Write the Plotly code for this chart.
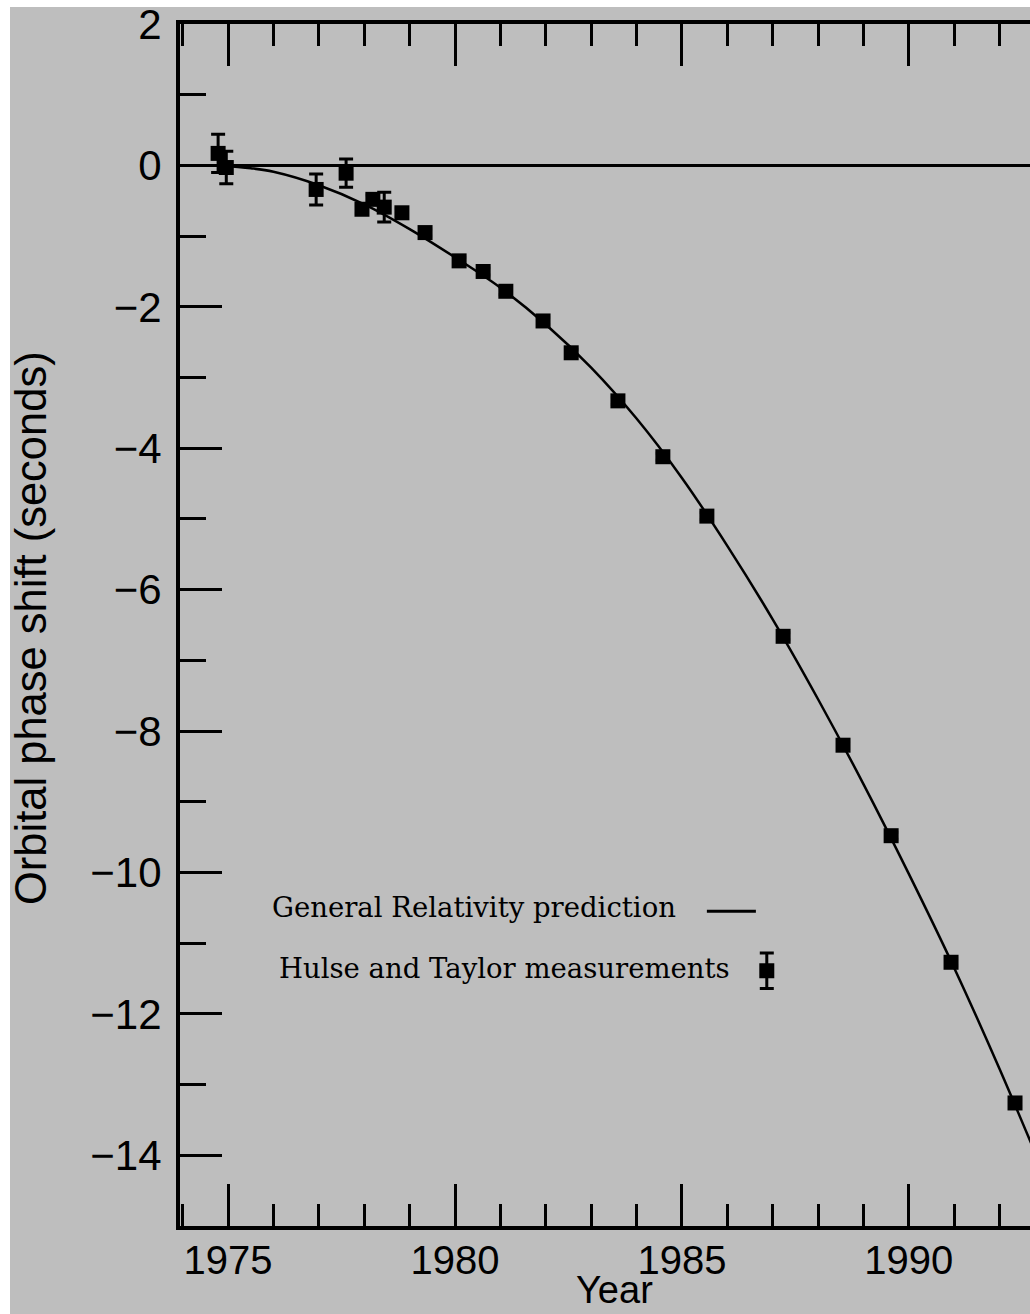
import plotly.graph_objects as go

# Hulse-Taylor binary pulsar: cumulative shift of periastron time
years = [1974.78, 1974.96, 1976.94, 1977.60, 1977.95, 1978.19, 1978.44, 1978.83,
         1979.34, 1980.09, 1980.62, 1981.12, 1981.94, 1982.56, 1983.59, 1984.58,
         1985.55, 1987.23, 1988.55, 1989.61, 1990.93, 1992.34]
shift = [0.17, -0.03, -0.34, -0.11, -0.62, -0.48, -0.59, -0.67,
         -0.95, -1.35, -1.50, -1.78, -2.20, -2.65, -3.33, -4.12,
         -4.96, -6.66, -8.20, -9.48, -11.27, -13.26]
shift_err = [0.27, 0.23, 0.22, 0.20, 0.06, 0.06, 0.21, 0.06,
             0.05, 0.05, 0.05, 0.05, 0.05, 0.05, 0.05, 0.05,
             0.05, 0.05, 0.05, 0.05, 0.05, 0.05]

# General Relativity prediction curve
gr_years = [1974.8, 1975.5, 1976, 1977, 1978, 1979, 1980, 1981, 1982, 1983,
            1984, 1985, 1986, 1987, 1988, 1989, 1990, 1991, 1992, 1993]
gr_shift = [0.0, -0.04, -0.09, -0.28, -0.55, -0.90, -1.30, -1.73, -2.25, -2.86,
            -3.58, -4.42, -5.38, -6.42, -7.55, -8.75, -10.02, -11.35, -12.78, -14.3]

x_range = [1973.94, 1992.67]
y_range = [-15, 2]

label_gr = "General Relativity prediction"
label_ht = "Hulse and Taylor measurements"
x_title = "Year"
y_title = "Orbital phase shift (seconds)"

# key samples drawn next to the in-plot legend text (data units)
key_line_x = [1985.55, 1986.63]
key_line_y = -10.55
key_mark_x = 1986.87
key_mark_y = -11.39
key_mark_err = 0.25

GRAY = "#bebebe"
INK = "black"
FIG_W, FIG_H = 1030, 1314
L, R, T, B = 180, 1030, 24, 1226
PW, PH = R - L, B - T


def px_x(px):
    return (px - L) / PW


def px_y(py):
    return (B - py) / PH


fig = go.Figure()

fig.add_trace(go.Scatter(
    x=gr_years, y=gr_shift, mode="lines",
    line=dict(color=INK, width=2.5, shape="spline"),
    hoverinfo="skip",
))

fig.add_trace(go.Scatter(
    x=years, y=shift, mode="markers",
    marker=dict(symbol="square", size=15, color=INK),
    error_y=dict(type="data", array=shift_err, color=INK, thickness=3, width=7),
))

# legend keys
fig.add_trace(go.Scatter(
    x=key_line_x, y=[key_line_y, key_line_y], mode="lines",
    line=dict(color=INK, width=3), hoverinfo="skip",
))
fig.add_trace(go.Scatter(
    x=[key_mark_x], y=[key_mark_y], mode="markers",
    marker=dict(symbol="square", size=15, color=INK),
    error_y=dict(type="data", array=[key_mark_err], color=INK, thickness=3, width=7),
    hoverinfo="skip",
))

sans = "Liberation Sans, Arial, sans-serif"
ytick_font = dict(family=sans, size=42, color=INK)
xtick_font = dict(family=sans, size=40, color=INK)
ytitle_font = dict(family=sans, size=43.5, color=INK)
xtitle_font = dict(family=sans, size=38, color=INK)
legend_font = dict(family="DejaVu Serif, serif", size=27.5, color=INK)

fig.update_layout(
    width=FIG_W, height=FIG_H,
    margin=dict(l=L, r=FIG_W - R, t=T, b=FIG_H - B, pad=0),
    paper_bgcolor=GRAY, plot_bgcolor=GRAY,
    showlegend=False,
    font=ytick_font,
    xaxis=dict(
        range=x_range, tick0=1975, dtick=5,
        ticks="inside", ticklen=42, tickwidth=3, tickcolor=INK,
        showline=True, linewidth=4, linecolor=INK, mirror="ticks",
        showgrid=False, zeroline=False, tickfont=xtick_font,
        ticklabelstandoff=-4,
        minor=dict(tick0=1975, dtick=1, ticks="inside", ticklen=22,
                   tickwidth=3, tickcolor=INK, showgrid=False),
    ),
    yaxis=dict(
        range=y_range, tick0=0, dtick=2,
        ticks="inside", ticklen=42, tickwidth=3, tickcolor=INK,
        showline=True, linewidth=4, linecolor=INK,
        showgrid=False, zeroline=True, zerolinecolor=INK, zerolinewidth=3,
        tickfont=ytick_font, ticklabelstandoff=6,
        minor=dict(tick0=0, dtick=1, ticks="inside", ticklen=26,
                   tickwidth=3, tickcolor=INK, showgrid=False),
    ),
    yaxis2=dict(
        overlaying="y", side="right", range=y_range, tick0=0, dtick=2,
        ticks="inside", ticklen=27, tickwidth=3, tickcolor=INK,
        showline=False, showticklabels=False, showgrid=False, zeroline=False,
        minor=dict(tick0=0, dtick=1, ticks="inside", ticklen=7,
                   tickwidth=3, tickcolor=INK, showgrid=False),
    ),
)

fig.add_annotation(
    text=y_title, textangle=-90, showarrow=False,
    xref="paper", yref="paper", x=px_x(31), y=px_y(628),
    xanchor="center", yanchor="middle", font=ytitle_font,
)
fig.add_annotation(
    text=x_title, showarrow=False,
    xref="paper", yref="paper", x=px_x(614), y=px_y(1290),
    xanchor="center", yanchor="middle", font=xtitle_font,
)
fig.add_annotation(
    text=label_gr, showarrow=False,
    xref="paper", yref="paper", x=px_x(270), y=px_y(907),
    xanchor="left", yanchor="middle", font=legend_font,
)
fig.add_annotation(
    text=label_ht, showarrow=False,
    xref="paper", yref="paper", x=px_x(277), y=px_y(968),
    xanchor="left", yanchor="middle", font=legend_font,
)

# white page border around the gray panel
fig.add_shape(type="rect", xref="paper", yref="paper", layer="above",
              x0=px_x(0), x1=px_x(FIG_W), y0=px_y(7), y1=px_y(0),
              fillcolor="white", line=dict(width=0))
fig.add_shape(type="rect", xref="paper", yref="paper", layer="above",
              x0=px_x(0), x1=px_x(10), y0=px_y(FIG_H), y1=px_y(0),
              fillcolor="white", line=dict(width=0))

fig.write_html("out.html")
